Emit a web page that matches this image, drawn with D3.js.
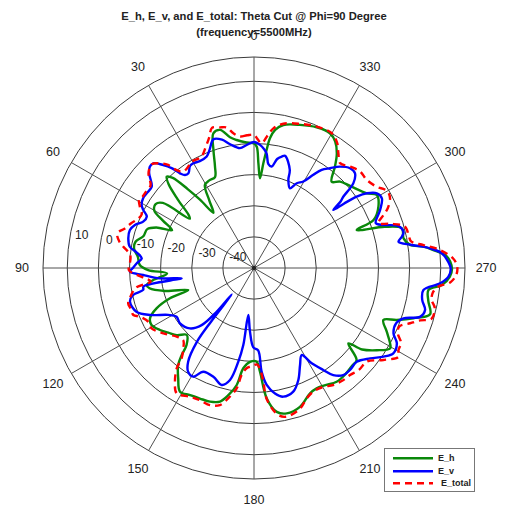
<!DOCTYPE html>
<html><head><meta charset="utf-8">
<script src="https://cdn.jsdelivr.net/npm/d3@7"></script>
<style>html,body{margin:0;padding:0;background:#fff;} svg{display:block;font-family:"Liberation Sans",Arial,sans-serif;}</style>
</head><body><svg id="c" width="507" height="514"></svg>
<script>
// ---- data ----
const titleLines = ["E_h, E_v, and E_total: Theta Cut @ Phi=90 Degree", "(frequency=5500MHz)"];
const angleTicks = [0,30,60,90,120,150,180,210,240,270,300,330];
const ringTicks = [-40,-30,-20,-10,0,10];
const rLimits = [-50, 17.8];
const seriesNames = ["E_h","E_v","E_total"];

const ehTheta = [0,4,7.7,10.4,13.8,16.8,19,21,23.2,27,30.6,33.5,36.3,38.3,40,42,43.7,45.5,48,51,52.5,54.5,57,60,62.5,65.2,67.5,70,74,77.5,81,84.5,88.5,91.1,93.6,96.8,99,101,104.5,108.5,109.8,112.5,115.8,119.1,123.4,127,131,134.9,138.8,140.3,142,145.5,149.1,153.3,157.5,161.8,165.7,168.6,171.6,173.9,177.6,181.6,183.3,185.6,189,192.7,198.3,204.1,207.5,211,216,221,225,228.1,231.4,233,236.2,239.4,241,244.4,248.1,250,252.5,255.3,259.3,262.8,264.8,267.5,269.9,273.4,275.7,277.2,278.4,281.2,285,287.5,290.3,291.9,296.3,300.8,303.5,310.5,315.1,318,321.4,324.2,327.3,330.6,336,342.2,348.4,351.3,353,353.9,354.9,356.2,357.6,358.7];
const ehDb = [-10,-9.5,-8.5,-7.3,-4.3,-4.8,-10,-15,-18.2,-18.4,-19,-24,-28,-22,-17,-11,-9.4,-11.5,-17,-23,-24,-14,-12.3,-13,-17,-21,-16,-13.5,-13,-11,-11,-12.5,-13.3,-16,-22,-17.4,-15.1,-15.8,-20.5,-27.7,-21.3,-16.1,-12.9,-12.3,-13.8,-15.5,-17.1,-19.5,-17.1,-13.6,-10.4,-7,-3.7,-4.3,-4.6,-4.8,-5.7,-8.3,-12,-17.6,-19.8,-19.9,-16.6,-7.9,-3.2,-2.1,-3,-5.9,-6.4,-6,-4.8,-5,-5.5,-5.7,-11.2,-6.5,-2.5,0.8,0,-2.7,-5.2,-1.2,3.7,8.5,7,6.5,10.6,13,13.6,12.1,7.9,4.9,0.7,-1,-0.8,-6,-14.8,-8.6,-5.4,-4.1,-6.5,-9.4,-10.8,-12.7,-8.3,-4.5,-1.7,-0.3,-0.5,-1.7,-3.1,-5.1,-8,-11.8,-16.2,-21.1,-16.3,-11];

const evTheta = [0,3.4,6.7,10.9,14,17.4,20.7,23,26.9,30.1,32.1,34.7,36.6,38,39.5,41.4,43.9,45.8,47.9,51.5,55.2,57.8,60.7,62.3,64.4,67.3,70.1,73,76.7,80.3,82.5,85.1,87.7,90.1,91.7,93.6,96.3,98.1,99.5,101.2,102.6,105.2,110.4,114.3,118.7,122.2,126.8,133.3,137.5,139.5,139.9,141.3,142.3,144.9,147.6,150.8,153.9,159.5,164.6,167.9,170.5,172.1,173.1,176.4,179.5,182.9,184.2,186.2,189.5,192.8,197.6,201.6,205.4,208.7,211.2,214.2,216.5,219.8,223.3,227.6,232.1,235.6,238.5,242.2,244.9,248.8,251.4,253.6,256.2,259.3,262.6,265.3,267.4,269.9,272.6,274.5,276.4,278.3,280.3,282,283.5,286.2,288.4,290.2,294.7,298.6,301.3,303.5,304.8,305.6,306.2,307.5,308.6,310.5,313.2,316.1,319.7,322.7,325.4,327.5,330.3,333.2,335.7,338.7,340,344.5,346,348,350.1,352.1,353.7,355,357.2];
const evDb = [-9.5,-10.4,-11.2,-9.5,-7.5,-6.6,-9.5,-11.1,-11.5,-11.1,-11.3,-13,-12.8,-11.4,-8.4,-5.9,-3.3,-3.3,-4.6,-8,-8,-7.9,-8.6,-9.8,-11.8,-11.4,-9.3,-8.3,-8.5,-9.5,-12,-13.8,-12.3,-11,-10.1,-14.3,-19.6,-26.5,-14,-13.7,-10.2,-8.7,-9.7,-13.3,-18.6,-20.6,-20.3,-21.7,-25.1,-31.5,-38.9,-28,-20,-13.2,-10.5,-10,-12.9,-12.7,-11,-13.2,-19.5,-25,-34.8,-29.5,-24.5,-23.5,-16.6,-12.2,-9.1,-7.6,-8.3,-11.3,-15.5,-18.1,-14.2,-10.4,-7.2,-5.2,-5,-5.3,-2.7,0.4,2.5,1.9,-0.5,-1,0.7,5.6,6.6,5,4.9,10,12.5,13.2,12,10.5,6.9,1.3,-2.8,-1.4,-0.6,-1.7,-6.2,-8.3,-5.4,-3.2,-3.8,-6.5,-9.8,-14.5,-18.4,-15,-13.3,-8,-5.5,-5.5,-7.3,-9.7,-11.7,-14.5,-18,-19.5,-21.9,-19.6,-16.4,-12.6,-13.1,-14.2,-16.9,-16.3,-13,-11.8,-10.4];

const etTheta = [0,3,6.1,8.7,11,13.6,16.7,18.9,21.6,25.5,30.4,33.8,36.5,38.3,39.8,41.9,44.6,48,51.5,55,57.2,59.1,62,64.5,67,70,73,75.8,78.9,80.7,84,87.8,91,93.5,95.5,97.5,99.5,102.6,105.7,108.5,111.3,113.1,117,120.5,125.8,131.6,135.6,138.8,141.3,142.4,145.2,148.3,153.6,157.8,162.2,166,168.8,171.8,173.4,175.8,179.6,181.6,183.4,184.7,185.6,189.4,192.4,198.2,202,205.9,210,214.1,218,221.9,226,230.3,234.6,238.4,240.4,243,245.5,248,250.5,252.5,254,257.5,259.8,262.2,264.2,265.8,268,270.4,272.8,275.5,277.7,279.6,281.7,285.3,288,289.8,292.3,294,297.1,299.5,301,303.5,308,312.3,316.5,320.6,323.7,326.3,330,336.1,342.3,348.5,352.1,354,356.5,358.5];
const etDb = [-7.2,-7.3,-7.5,-6.2,-4,-3.5,-3,-5.6,-8,-10.5,-10.4,-11.4,-11.5,-9.9,-6.9,-4.8,-3.2,-4.4,-7.5,-7.5,-7.5,-7,-8.5,-10,-9.5,-8,-6.6,-4.7,-5.9,-7.4,-10,-10.1,-9.8,-12.5,-15,-16.5,-11.5,-9.5,-8,-8.3,-8.4,-10.1,-11.9,-11.8,-14.1,-16.8,-17.5,-15.5,-12.8,-9.3,-5.5,-2.7,-3.8,-4.1,-3.7,-4.6,-7.3,-10.9,-15.4,-17.7,-18.6,-19,-17.5,-13.3,-7.5,-2.1,-1.1,-2.5,-4.8,-6,-5.8,-4.6,-4,-3.8,-3,-2.9,1,4.5,3.4,3,0.8,0.3,3.2,6,9.3,9.5,8,8,9.5,13.2,15,15.3,14,10.1,5,1.2,0.8,0.3,-4,-7.5,-5,-3,-0.9,-0.5,-1,-2.7,-4,-3.9,-5.1,-6.4,-4.2,-1.8,0,-0.3,-1.4,-2.7,-4.7,-7,-9.8,-8.5];

// ---- drawing ----
const W = 507, H = 514, cx = 254, cy = 268, R = 211;
const svg = d3.select("#c");
svg.append("rect").attr("width", W).attr("height", H).attr("fill", "#fff");

const r = d3.scaleLinear().domain(rLimits).range([0, R]);
const rad = d => d * Math.PI / 180;
const g = svg.append("g").attr("transform", `translate(${cx},${cy})`);

// rings
const ringVals = ringTicks.concat([rLimits[1]]);
g.selectAll("circle.ring").data(ringVals).join("circle")
  .attr("r", d => r(d)).attr("fill", "none").attr("stroke", "#3a3a3a").attr("stroke-width", 1);

// spokes
g.selectAll("line.spoke").data(angleTicks).join("line")
  .attr("x1", 0).attr("y1", 0)
  .attr("x2", d => -R * Math.sin(rad(d))).attr("y2", d => -R * Math.cos(rad(d)))
  .attr("stroke", "#505050").attr("stroke-width", 1);

// angle labels
g.selectAll("text.ang").data(angleTicks).join("text")
  .attr("x", d => -1.1 * R * Math.sin(rad(d)))
  .attr("y", d => -1.1 * R * Math.cos(rad(d)))
  .attr("dy", "0.35em").attr("text-anchor", "middle")
  .attr("font-size", "12.5px").attr("fill", "#222").text(d => d);

// radial labels
g.selectAll("text.rl").data(ringTicks).join("text")
  .attr("x", d => -r(d) * Math.sin(rad(82)) + 6)
  .attr("y", d => -r(d) * Math.cos(rad(82)) - 7)
  .attr("dy", "0.35em").attr("text-anchor", "start")
  .attr("font-size", "12px").attr("fill", "#222").text(d => d);

// center dot
g.append("circle").attr("r", 2.2).attr("fill", "#222");

const line = d3.lineRadial()
  .angle(d => -rad(d[0]))
  .radius(d => r(d[1]))
  .curve(d3.curveCatmullRomClosed.alpha(0.5));

const zip = (a, b) => a.map((t, i) => [t, b[i]]);
const series = [
  {name: seriesNames[0], pts: zip(ehTheta, ehDb), color: "#0a880a", dash: null},
  {name: seriesNames[1], pts: zip(evTheta, evDb), color: "#0000ff", dash: null},
  {name: seriesNames[2], pts: zip(etTheta, etDb), color: "#ff0000", dash: "7,5"}
];
series.forEach(s => {
  g.append("path").attr("d", line(s.pts)).attr("fill", "none")
    .attr("stroke", s.color).attr("stroke-width", 2.4)
    .attr("stroke-linejoin", "round")
    .attr("stroke-dasharray", s.dash);
});

// title
svg.selectAll("text.title").data(titleLines).join("text")
  .attr("x", 254).attr("y", (d, i) => 19.6 + i * 16.6)
  .attr("text-anchor", "middle").attr("font-size", "11.2px").attr("font-weight", "bold")
  .attr("fill", "#222").text(d => d);

// legend
const lg = svg.append("g");
lg.append("rect").attr("x", 384.5).attr("y", 448.5).attr("width", 90).attr("height", 43)
  .attr("fill", "#fff").attr("stroke", "#777").attr("stroke-width", 1);
const ly = [458.3, 471.2, 483.3];
const lx = [438, 438, 441];
series.forEach((s, i) => {
  lg.append("line").attr("x1", 393).attr("x2", 433).attr("y1", ly[i]).attr("y2", ly[i])
    .attr("stroke", s.color).attr("stroke-width", 2.4).attr("stroke-dasharray", s.dash);
  lg.append("text").attr("x", lx[i]).attr("y", ly[i]).attr("dy", "0.35em")
    .attr("font-size", "9px").attr("font-weight", "bold").attr("fill", "#222").text(s.name);
});
</script>
</body></html>
